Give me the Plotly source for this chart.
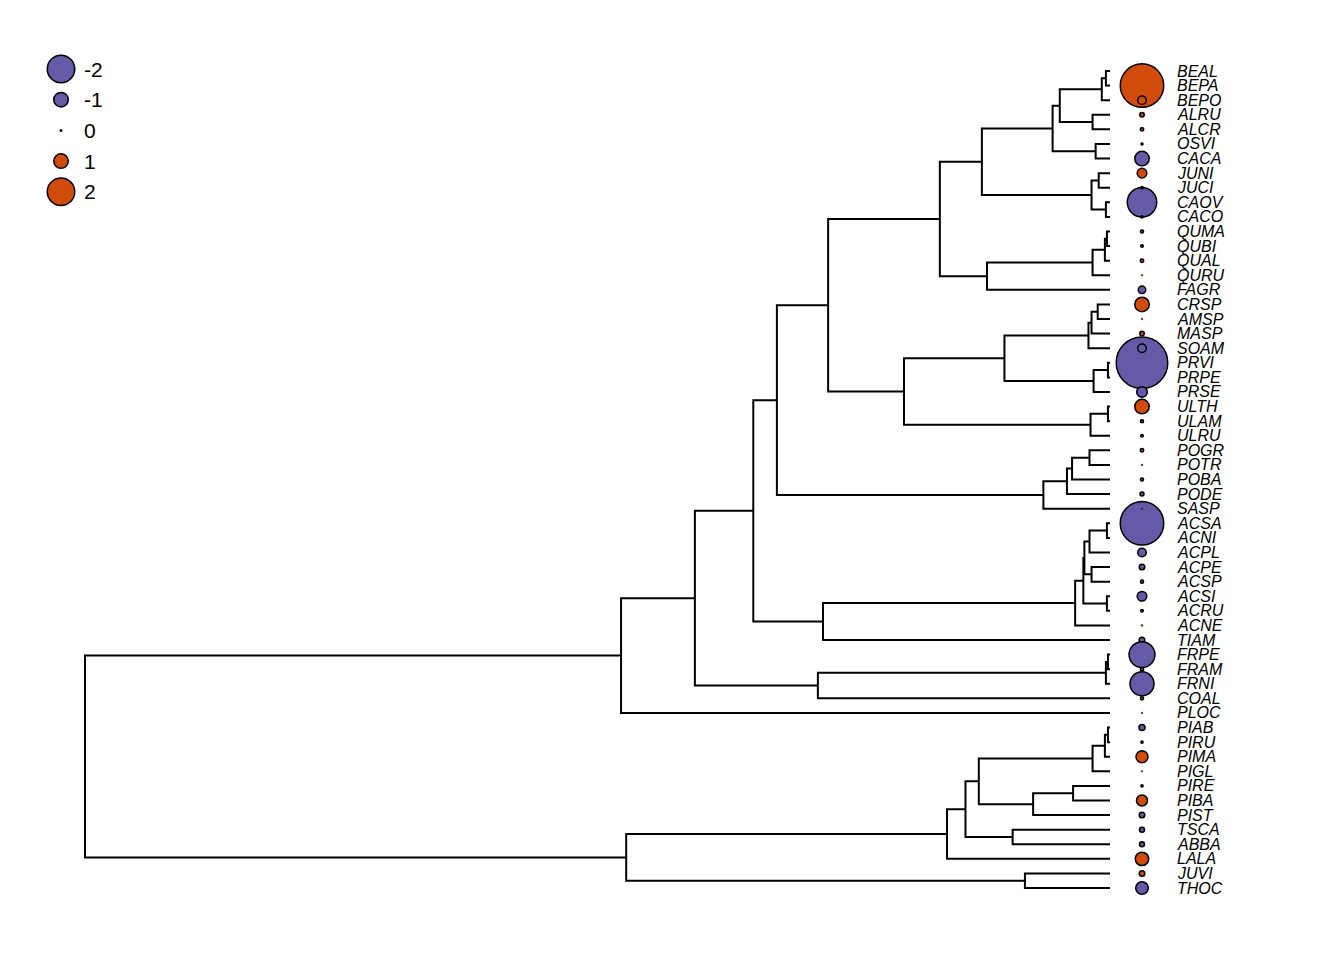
import plotly.graph_objects as go

# ---------------- data ----------------
# Newick pieces: internal node labels are node depths (root = 0, tips = 100)
betula = "((((BEAL,BEPA)99.6,BEPO)99.2,(ALRU,ALCR)98.3)95.1,(OSVI,CACA)98.6)94.4"
juglans = "((JUNI,JUCI)98.9,(CAOV,CACO)99.6)98.2"
fagales = "((" + betula + "," + juglans + ")87.5,((((QUMA,QUBI)99.7,QUAL)99.5,QURU)98.3,FAGR)88.0)83.4"
rosaceae = "((((CRSP,AMSP)98.8,MASP)98.2,SOAM)97.9,((PRVI,PRPE)99.8,PRSE)98.4)89.7"
rosales = "(" + rosaceae + ",((ULTH,ULAM)99.8,ULRU)98.1)79.9"
salicaceae = "((((POGR,POTR)98.0,POBA)96.3,PODE)95.8,SASP)93.5"
sapindales = "((((((ACSA,ACNI)99.7,ACPL)98.0,(ACPE,ACSP)98.2)97.5,(ACSI,ACRU)99.7)97.4,ACNE)96.6,TIAM)72.0"
rosids = "(((" + fagales + "," + rosales + ")72.5," + salicaceae + ")67.5," + sapindales + ")65.2"
asterids = "(((FRPE,FRAM)99.8,FRNI)99.6,COAL)71.5"
angiosperms = "((" + rosids + "," + asterids + ")59.5,PLOC)52.3"
pinaceae = "((((PIAB,PIRU)99.8,PIMA)99.5,PIGL)98.3,((PIRE,PIBA)96.4,PIST)92.5)87.2"
conifers = "(((" + pinaceae + ",(TSCA,ABBA)90.5)85.9,LALA)84.1,(JUVI,THOC)91.7)52.8"
newick = "(" + angiosperms + "," + conifers + ")0;"

species = ["BEAL", "BEPA", "BEPO", "ALRU", "ALCR", "OSVI", "CACA", "JUNI", "JUCI", "CAOV",
           "CACO", "QUMA", "QUBI", "QUAL", "QURU", "FAGR", "CRSP", "AMSP", "MASP", "SOAM",
           "PRVI", "PRPE", "PRSE", "ULTH", "ULAM", "ULRU", "POGR", "POTR", "POBA", "PODE",
           "SASP", "ACSA", "ACNI", "ACPL", "ACPE", "ACSP", "ACSI", "ACRU", "ACNE", "TIAM",
           "FRPE", "FRAM", "FRNI", "COAL", "PLOC", "PIAB", "PIRU", "PIMA", "PIGL", "PIRE",
           "PIBA", "PIST", "TSCA", "ABBA", "LALA", "JUVI", "THOC"]
trait = [0.30, 3.23, 0.54, 0.23, 0.15, -0.04, -1.00, 0.62, -0.06, -2.15,
         -0.05, -0.12, -0.08, 0.15, 0.01, -0.46, 1.00, 0.01, 0.23, -0.54,
         -3.85, -0.30, -0.70, 1.00, -0.12, -0.08, 0.15, 0.01, 0.12, -0.19,
         0.01, -3.23, -0.30, -0.54, -0.31, -0.12, -0.62, -0.08, 0.02, -0.31,
         -1.88, -0.15, -1.73, 0.12, 0.01, -0.35, -0.05, 0.81, 0.005, 0.05,
         0.73, -0.31, -0.27, -0.27, 0.92, 0.31, -0.85]
drawn_below = ["BEAL", "PRPE", "ACNI", "FRAM"]
drawn_on_top = ["SOAM", "SASP", "JUCI"]
legend_vals = [-2, -1, 0, 1, 2]

# ---------------- style / layout constants ----------------
W_PX, H_PX = 1344, 960
ROOT_PX, TIP_PX = 85, 1110
TIP1_PX, TIP_STEP = 71, 14.59
BUBBLE_PX, LABEL_PX = 1142, 1177
LEG_X, LEG_Y0, LEG_STEP, LEG_TXT_X = 61, 69, 30.7, 84
ORANGE, PURPLE = "#D14B0B", "#645AA8"
SIZE_PER_UNIT = 13.0

# ---------------- parse newick ----------------
def parse(s):
    pos = [0]

    def read_label():
        st = pos[0]
        while s[pos[0]] not in ",();":
            pos[0] += 1
        return s[st:pos[0]]

    def node():
        if s[pos[0]] == "(":
            pos[0] += 1
            ch = [node()]
            while s[pos[0]] == ",":
                pos[0] += 1
                ch.append(node())
            pos[0] += 1  # ')'
            return {"children": ch, "depth": float(read_label())}
        return {"name": read_label(), "depth": 100.0}

    return node()

root = parse(newick)
tip_order = []

def assign_y(n):
    if "children" not in n:
        tip_order.append(n["name"])
        n["y"] = float(len(tip_order))
    else:
        for c in n["children"]:
            assign_y(c)
        n["y"] = (n["children"][0]["y"] + n["children"][-1]["y"]) / 2.0

assign_y(root)

lx, ly = [], []

def segs(n):
    if "children" not in n:
        return
    ch = n["children"]
    d = n["depth"]
    f, l = ch[0], ch[-1]
    lx.extend([f["depth"], d, d, l["depth"], None])
    ly.extend([f["y"], f["y"], l["y"], l["y"], None])
    for c in ch[1:-1]:
        lx.extend([d, c["depth"], None])
        ly.extend([c["y"], c["y"], None])
    for c in ch:
        segs(c)

segs(root)

# ---------------- axes mapping ----------------
ppu = (TIP_PX - ROOT_PX) / 100.0
x_range = [-ROOT_PX / ppu, (W_PX - ROOT_PX) / ppu]
y_top = 1 - TIP1_PX / TIP_STEP
y_bot = y_top + H_PX / TIP_STEP
bubble_x = (BUBBLE_PX - ROOT_PX) / ppu
label_x = (LABEL_PX - ROOT_PX) / ppu

ypos = {nm: float(i + 1) for i, nm in enumerate(tip_order)}
tval = dict(zip(species, trait))

fig = go.Figure()
fig.add_trace(go.Scatter(x=lx, y=ly, mode="lines", line=dict(color="black", width=2),
                         hoverinfo="skip", showlegend=False))

def bubble_trace(names):
    vals = [tval[n] for n in names]
    return go.Scatter(
        x=[bubble_x] * len(names), y=[ypos[n] for n in names], mode="markers",
        marker=dict(size=[SIZE_PER_UNIT * abs(v) + 1.5 for v in vals],
                    color=[ORANGE if v > 0 else PURPLE for v in vals],
                    line=dict(color="black", width=[1.5 if abs(v) > 0.03 else 0.6 for v in vals]),
                    opacity=1),
        text=names, hoverinfo="text", showlegend=False)

fig.add_trace(bubble_trace([n for n in tip_order if n in drawn_below]))
fig.add_trace(bubble_trace([n for n in tip_order if n not in drawn_below and n not in drawn_on_top]))
fig.add_trace(bubble_trace([n for n in tip_order if n in drawn_on_top]))

for n in tip_order:
    fig.add_annotation(x=label_x, y=ypos[n], text=n, showarrow=False, xanchor="left",
                       yanchor="middle", xshift=-2,
                       font=dict(family="Liberation Sans", size=16, color="black", style="italic"))

# legend drawn on a pixel-like overlay axis
leg_y = [LEG_Y0 + i * LEG_STEP for i in range(len(legend_vals))]
fig.add_trace(go.Scatter(
    x=[LEG_X] * len(legend_vals), y=leg_y, mode="markers", xaxis="x2", yaxis="y2",
    marker=dict(size=[SIZE_PER_UNIT * abs(v) + 1.5 for v in legend_vals],
                color=[ORANGE if v > 0 else PURPLE for v in legend_vals],
                line=dict(color="black", width=1.5), opacity=1),
    hoverinfo="skip", showlegend=False))
for v, yy in zip(legend_vals, leg_y):
    fig.add_annotation(x=LEG_TXT_X, y=yy, xref="x2", yref="y2", text=str(v), showarrow=False,
                       xanchor="left", yanchor="middle", xshift=-2,
                       font=dict(family="Liberation Sans", size=21, color="black"))

fig.update_layout(
    width=W_PX, height=H_PX, autosize=False,
    margin=dict(l=0, r=0, t=0, b=0, pad=0),
    paper_bgcolor="white", plot_bgcolor="white",
    xaxis=dict(range=x_range, visible=False, fixedrange=True),
    yaxis=dict(range=[y_bot, y_top], visible=False, fixedrange=True),
    xaxis2=dict(range=[0, W_PX], visible=False, overlaying="x", anchor="y2", fixedrange=True),
    yaxis2=dict(range=[H_PX, 0], visible=False, overlaying="y", anchor="x2", fixedrange=True),
)

fig.write_html("out.html", config={"displayModeBar": False},
               post_script="document.body.style.margin='0';")
